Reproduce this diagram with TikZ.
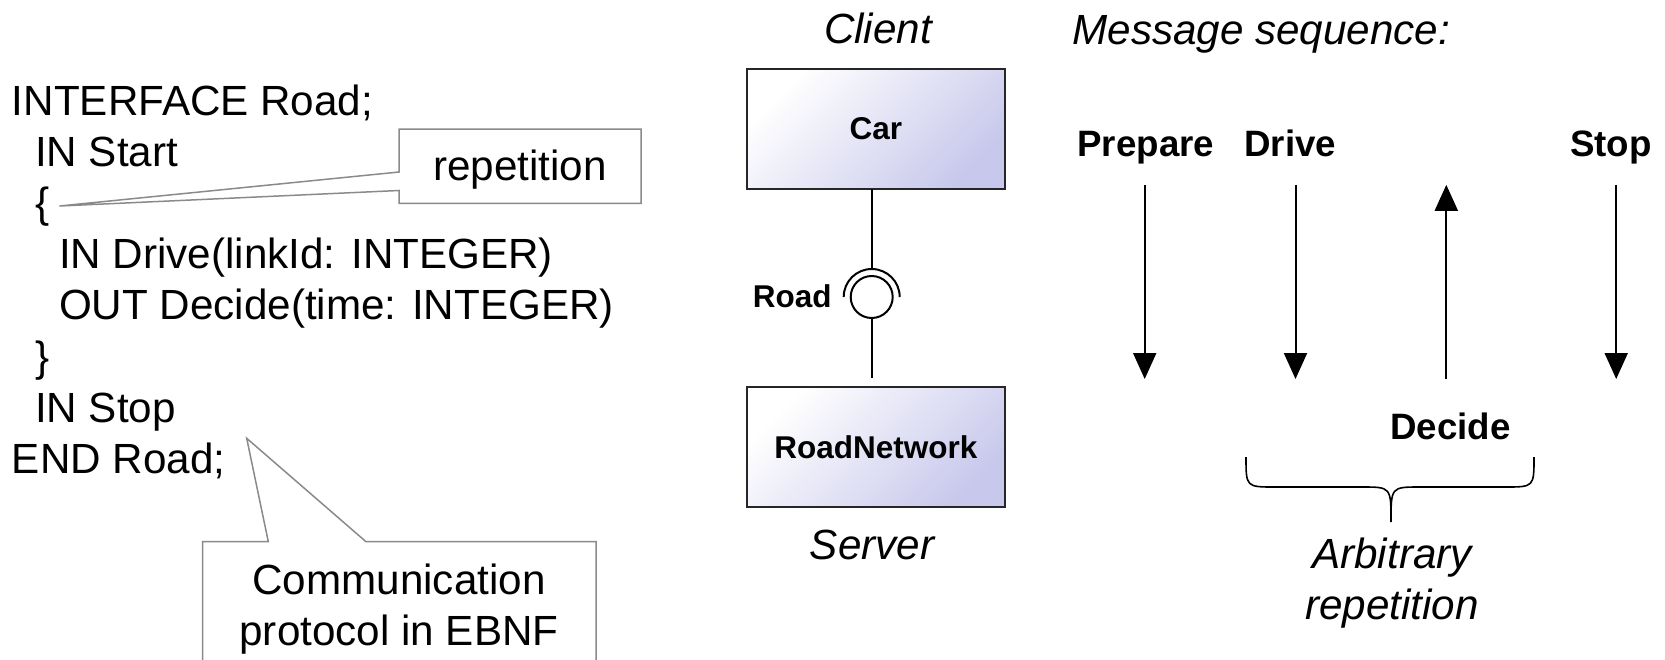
\documentclass[tikz,border=0pt]{standalone}
\usepackage{fontspec}
\setmainfont{Liberation Sans}
\usetikzlibrary{arrows.meta}

\definecolor{umlfill}{RGB}{200,200,236}
\definecolor{callgray}{RGB}{138,138,138}

\newcommand\codefont{\fontsize{42.2}{50}\selectfont}
\newcommand\umlfont{\fontsize{31.5}{38}\selectfont\bfseries}
\newcommand\msgfont{\fontsize{36.7}{44}\selectfont\bfseries}

\begin{document}
\begin{tikzpicture}[x=1pt,y=-1pt,
  every node/.style={inner sep=0pt,outer sep=0pt},
  code/.style={anchor=base west,font=\codefont},
  caption/.style={anchor=base,font=\codefont\itshape},
  calltext/.style={anchor=base,font=\codefont},
  callline/.style={draw=callgray,line width=1.5pt,line join=miter,fill=white},
  umlbox/.style={draw=black!85,line width=1.8pt,minimum width=258.3pt,minimum height=119.5pt,
    top color=white,bottom color=umlfill,shading angle=45,font=\umlfont},
  wire/.style={draw=black,line width=2pt},
  msg/.style={anchor=base,font=\msgfont},
  msgarrow/.style={draw=black,line width=2pt,-{Triangle[width=23pt,length=26pt]}},
  bracepath/.style={draw=black,line width=1.6pt}
]
\useasboundingbox (0,0) rectangle (1665,659);
\clip (0,0) rectangle (1665,659);

% ---------- EBNF interface text ----------
\node[code] (l1) at (12,115)    {INTERFACE Road;};
\node[code] (l2) at (35,166.2)  {IN Start};
\node[code] (l3) at (35,217.4)  {\{};
\node[code] (l4) at (59,268.6)  {IN Drive(linkId: INTEGER)};
\node[code] (l5) at (59,319.8)  {OUT Decide(time: INTEGER)};
\node[code] (l6) at (35,371)    {\}};
\node[code] (l7) at (35,422.2)  {IN Stop};
\node[code] (l8) at (12,473.4)  {END Road;};

% callout pointing at the opening brace
\coordinate (reptip) at (59.5,206);
\path[callline] (399,129) -- (641,129) -- (641,203.3) -- (399,203.3) -- (399,190.5)
  -- (reptip) -- (399,172) -- cycle;
\node[calltext] (rep) at (520,180) {repetition};

% callout pointing at the end of the declaration
\coordinate (ebnftip) at (246.7,438.3);
\path[callline] (202.7,700) -- (202.7,541.7) -- (268.3,541.7) -- (ebnftip)
  -- (366,541.7) -- (596,541.7) -- (596,700);
\node[calltext] (comm1) at (399,594) {Communication};
\node[calltext] (comm2) at (399,645) {protocol in EBNF};

% ---------- component view ----------
\node[caption] (client) at (878,43.5) {Client};
\node[umlbox] (car) at (875.8,129) {Car};
\node[umlbox] (net) at (875.8,447) {RoadNetwork};
\node[caption] (server) at (872,559) {Server};

\node[circle,draw=black,line width=2pt,minimum size=42pt,fill=white] (ball) at (871.7,297) {};
\draw[wire] (ball.center) ++(180:28) arc[start angle=180,end angle=360,radius=28];
\coordinate (socktop) at (871.7,269);
\draw[wire] (car.south -| ball) -- (socktop);
\draw[wire] (ball.south) -- (871.7,378.3) coordinate (netend);
\node[anchor=base east,font=\umlfont] (roadlbl) at (831.7,307) {Road};

% ---------- message sequence ----------
\node[anchor=base west,font=\codefont\itshape] (seq) at (1072.5,44) {Message sequence:};

\node[msg] (prep)  at (1145.8,156.5) {Prepare};
\node[msg] (drive) at (1290.2,156.5) {Drive};
\node[msg] (stop)  at (1611,156.5)   {Stop};
\node[msg] (decide) at (1450.6,439)  {Decide};

\coordinate (a1s) at (1144.7,184.8); \coordinate (a1e) at (1144.7,379);
\coordinate (a2s) at (1295.5,184.8); \coordinate (a2e) at (1295.5,379);
\coordinate (a3s) at (1446.3,379);   \coordinate (a3e) at (1446.3,184.8);
\coordinate (a4s) at (1616.2,184.8); \coordinate (a4e) at (1616.2,379);
\draw[msgarrow] (a1s) -- (a1e);
\draw[msgarrow] (a2s) -- (a2e);
\draw[msgarrow] (a3s) -- (a3e);
\draw[msgarrow] (a4s) -- (a4e);

% brace under Drive / Decide
\draw[bracepath] (1246,457) .. controls (1246,487) .. (1275,487) -- (1362,487)
  .. controls (1391,487) .. (1391,522)
  .. controls (1391,487) .. (1420,487) -- (1505,487)
  .. controls (1534,487) .. (1534,457);
\node[caption] (arb1) at (1392,568) {Arbitrary};
\node[caption] (arb2) at (1392,619) {repetition};
\end{tikzpicture}
\end{document}
